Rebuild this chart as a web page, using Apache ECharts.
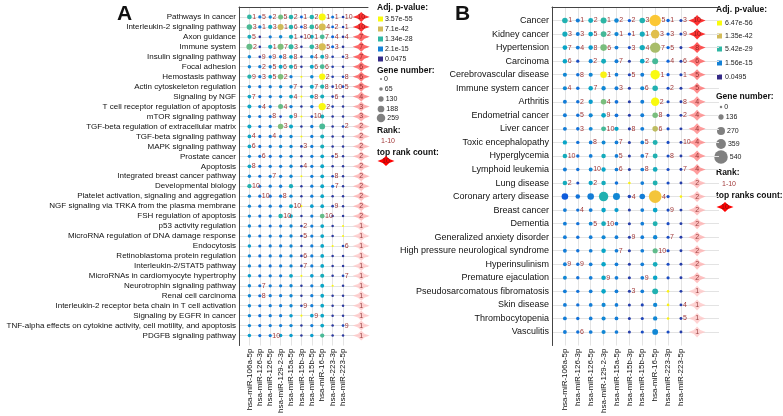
<!DOCTYPE html>
<html><head><meta charset="utf-8">
<script src="https://cdn.jsdelivr.net/npm/echarts@6/dist/echarts.min.js"></script>
<style>html,body{margin:0;padding:0;background:#fff}#c{width:783px;height:416px}</style>
</head><body><div id="c"></div><script>
const mirnas = ['hsa-miR-106a-5p','hsa-miR-126-3p','hsa-miR-126-5p','hsa-miR-129-2-3p','hsa-miR-15a-5p','hsa-miR-15b-3p','hsa-miR-15b-5p','hsa-miR-16-5p','hsa-miR-223-3p','hsa-miR-223-5p'];

const pathwaysA = ['Pathways in cancer','Interleukin-2 signaling pathway','Axon guidance','Immune system','Insulin signaling pathway','Focal adhesion','Hemostasis pathway','Actin cytoskeleton regulation','Signaling by NGF','T cell receptor regulation of apoptosis','mTOR signaling pathway','TGF-beta regulation of extracellular matrix','TGF-beta signaling pathway','MAPK signaling pathway','Prostate cancer','Apoptosis','Integrated breast cancer pathway','Developmental biology','Platelet activation, signaling and aggregation','NGF signaling via TRKA from the plasma membrane','FSH regulation of apoptosis','p53 activity regulation','MicroRNA regulation of DNA damage response','Endocytosis','Retinoblastoma protein regulation','Interleukin-2/STAT5 pathway','MicroRNAs in cardiomyocyte hypertrophy','Neurotrophin signaling pathway','Renal cell carcinoma','Interleukin-2 receptor beta chain in T cell activation','Signaling by EGFR in cancer','TNF-alpha effects on cytokine activity, cell motility, and apoptosis','PDGFB signaling pathway'];
const rankCountA = [10,10,7,7,7,6,6,5,4,3,3,2,2,2,2,2,2,2,2,2,2,1,1,1,1,1,1,1,1,1,1,1,1];
// -log10(adj. p) per pathway x miRNA
const logPA = [
[28,14,16,33,26,10,26,54,12,4],[30,14,24,41,26,8,28,42,10,4],[24,3,14,16,24,3,24,30,10,3],[32,4,24,34,28,3,28,42,10,3],
[16,5,14,16,22,3,16,24,4,4],[16,14,16,22,24,3,22,30,4,3],[26,14,22,34,14,54,16,54,4,5],[16,12,14,16,16,3,22,26,4,5],
[22,12,14,16,22,54,22,24,4,3],[22,14,14,32,14,3,14,54,4,3],[16,12,12,6,22,54,6,24,3,3],[22,12,14,34,22,3,14,30,3,5],
[22,12,14,14,16,54,14,24,3,3],[22,12,14,16,16,4,14,24,3,3],[16,12,12,14,16,3,14,22,5,3],[22,12,14,14,16,4,14,22,3,3],
[16,12,14,14,16,54,14,22,5,3],[26,12,14,14,24,3,14,22,10,3],[16,12,12,14,16,3,14,22,3,3],[16,12,14,14,22,54,20,22,4,3],
[16,12,14,26,22,3,14,32,3,3],[16,12,12,14,16,4,14,22,3,54],[16,12,14,14,16,4,14,22,3,54],[20,12,14,14,16,3,14,22,54,5],
[16,12,14,14,16,4,14,22,3,3],[16,12,12,14,16,4,14,22,3,3],[20,12,14,14,22,54,20,24,3,5],[16,12,14,14,16,3,14,22,54,3],
[16,12,14,14,16,3,14,22,3,3],[16,12,14,14,16,4,14,22,3,3],[16,12,14,14,20,54,20,22,3,3],[16,12,14,14,16,3,14,22,3,5],
[20,12,14,20,20,3,20,30,3,3]];
const genesA = [
[110,50,55,120,100,35,100,200,40,25],[140,55,90,160,100,30,110,200,35,20],[80,25,50,60,90,20,80,110,40,25],[160,25,90,160,120,20,110,210,40,25],
[60,30,50,55,70,20,60,80,25,25],[60,50,55,80,85,20,80,110,25,20],[90,50,70,140,50,5,60,170,25,25],[55,45,50,55,60,20,80,90,25,25],
[70,45,50,55,75,5,75,80,25,20],[80,50,50,120,55,20,55,210,25,20],[55,45,45,30,70,5,30,80,20,20],[80,45,50,140,80,20,55,150,20,25],
[70,45,50,50,55,5,50,80,20,20],[70,45,50,55,55,25,50,80,20,20],[55,45,45,50,55,20,50,70,25,20],[70,45,50,50,55,25,50,75,20,20],
[55,45,50,50,55,5,50,70,25,20],[90,45,50,55,90,20,50,75,40,20],[55,45,45,55,55,20,50,70,20,20],[55,45,50,50,75,5,65,70,25,20],
[55,45,50,100,70,20,50,110,20,20],[55,45,45,50,55,25,50,70,20,5],[55,45,50,50,55,25,50,70,20,5],[60,45,50,50,55,20,50,70,5,25],
[55,45,50,50,55,25,50,70,20,20],[55,45,45,50,55,25,50,70,20,20],[60,45,50,50,70,5,65,80,20,25],[55,45,50,50,55,20,50,75,5,20],
[55,45,50,50,55,20,50,70,20,20],[55,45,50,50,55,25,50,70,20,20],[55,45,50,50,60,5,65,70,20,20],[55,45,50,50,55,20,50,70,20,25],
[60,45,50,60,60,20,60,90,20,20]];
const rankA = [
[1,5,2,5,2,1,2,1,1,10],[3,1,3,1,6,8,6,4,2,1],[5,0,0,0,1,10,1,7,4,4],[2,0,1,7,3,0,3,5,3,0],
[0,9,9,8,8,0,4,9,0,3],[0,2,5,6,6,0,6,6,0,0],[9,3,5,2,0,0,0,2,0,8],[0,0,0,0,7,0,7,8,10,5],
[7,0,0,0,4,0,8,0,6,0],[0,4,0,4,0,0,0,2,0,0],[0,0,8,0,9,0,10,0,0,0],[0,0,0,3,0,0,0,0,0,2],
[4,0,4,0,0,0,0,0,0,0],[6,0,0,0,0,3,0,0,0,0],[0,6,0,0,0,0,0,0,5,0],[8,0,0,0,0,4,0,0,0,0],
[0,0,7,0,0,0,0,0,8,0],[10,0,0,0,0,0,0,0,7,0],[0,10,0,8,0,0,0,0,0,0],[0,0,0,0,10,0,0,0,9,0],
[0,0,0,10,0,0,0,10,0,0],[0,0,0,0,0,2,0,0,0,0],[0,0,0,0,0,5,0,0,0,0],[0,0,0,0,0,0,0,0,0,6],
[0,0,0,0,0,6,0,0,0,0],[0,0,0,0,0,7,0,0,0,0],[0,0,0,0,0,0,0,0,0,7],[0,7,0,0,0,0,0,0,0,0],
[0,8,0,0,0,0,0,0,0,0],[0,0,0,0,0,9,0,0,0,0],[0,0,0,0,0,0,9,0,0,0],[0,0,0,0,0,0,0,0,0,9],
[0,0,10,0,0,0,0,0,0,0]];

const diseasesB = ['Cancer','Kidney cancer','Hypertension','Carcinoma','Cerebrovascular disease','Immune system cancer','Arthritis','Endometrial cancer','Liver cancer','Toxic encephalopathy','Hyperglycemia','Lymphoid leukemia','Lung disease','Coronary artery disease','Breast cancer','Dementia','Generalized anxiety disorder','High pressure neurological syndrome','Hyperinsulinism','Premature ejaculation','Pseudosarcomatous fibromatosis','Skin disease','Thrombocytopenia','Vasculitis'];
const rankCountB = [10,10,8,6,5,5,4,4,4,4,4,4,2,2,2,2,2,2,2,2,1,1,1,1];
const logPB = [
[26,14,24,28,16,8,26,48,10,5],[24,14,22,30,16,8,24,44,10,5],[22,14,20,34,14,6,24,38,10,4],[22,6,16,24,14,4,22,30,10,4],
[16,12,16,54,14,5,14,55,8,5],[16,12,22,16,14,4,16,26,6,4],[14,12,20,34,12,4,14,55,6,4],[14,12,16,22,12,4,14,34,6,4],
[14,12,16,30,22,4,14,40,6,4],[22,12,14,16,14,4,14,26,6,4],[24,12,14,24,14,4,14,26,6,4],[14,12,16,22,14,4,14,24,6,4],
[24,6,22,24,12,54,14,26,6,4],[8,12,14,26,16,5,14,47,6,54],[14,12,14,22,20,4,14,22,6,4],[14,12,16,24,14,4,14,26,6,4],
[14,12,14,16,14,4,14,16,6,4],[14,12,14,22,14,4,14,32,6,4],[14,12,14,22,14,4,14,24,6,4],[16,12,14,22,14,4,14,22,6,4],
[14,12,14,22,14,4,14,26,54,4],[14,12,14,16,14,4,5,16,54,4],[14,12,14,16,14,4,5,16,54,4],[14,12,14,16,14,4,6,16,6,4]];
const genesB = [
[150,80,120,170,100,40,150,440,45,30],[130,70,110,160,90,35,130,300,40,25],[110,70,100,200,70,30,140,390,40,25],[100,35,80,120,70,25,110,170,40,25],
[80,50,80,200,60,30,70,340,35,30],[80,50,100,90,70,25,80,150,30,25],[70,50,90,150,60,25,70,290,30,20],[70,50,80,110,60,25,70,150,30,20],
[70,50,70,120,90,25,70,150,30,20],[90,45,60,70,60,25,60,120,30,20],[100,45,60,100,60,25,60,120,30,20],[70,45,70,90,60,25,60,110,30,20],
[100,30,90,100,55,5,60,120,30,20],[200,100,200,340,220,50,150,500,35,5],[65,45,65,100,85,25,60,110,30,20],[65,45,70,110,60,25,60,120,30,20],
[65,45,60,80,60,25,60,90,30,20],[65,45,60,100,60,25,60,130,30,20],[65,45,60,100,60,25,60,110,30,20],[70,45,60,100,60,25,60,100,30,20],
[65,45,60,100,60,25,60,170,5,20],[65,45,60,80,60,25,30,90,5,20],[65,45,60,80,60,25,30,90,5,20],[65,45,60,80,60,25,35,160,30,20]];
const rankB = [
[1,1,2,1,2,2,3,5,1,3],[3,3,5,2,1,1,1,3,3,9],[7,4,8,6,0,3,4,7,5,0],[6,0,2,0,7,0,2,0,4,6],
[0,8,0,1,0,5,0,1,0,1],[4,0,7,0,3,0,6,0,2,0],[0,2,0,4,0,0,0,2,0,8],[0,5,0,9,0,0,0,8,0,2],
[0,3,0,10,0,8,0,6,0,0],[0,0,8,0,7,0,5,0,0,10],[10,0,0,0,5,0,7,0,8,0],[0,0,10,0,6,0,8,0,0,7],
[2,0,2,0,0,0,0,0,0,0],[0,0,0,0,0,4,0,4,0,0],[0,4,0,0,0,0,0,0,9,0],[0,0,5,10,0,0,0,0,0,0],
[0,0,0,0,0,9,0,0,7,0],[0,0,0,0,7,0,0,10,0,0],[9,9,0,0,0,0,0,0,0,0],[0,0,0,9,0,0,9,0,0,0],
[0,0,0,0,0,3,0,0,0,0],[0,0,0,0,0,0,0,0,0,4],[0,0,0,0,0,0,0,0,0,5],[0,6,0,0,0,0,0,0,0,0]];

const legendPA = ['3.57e-55','7.1e-42','1.34e-28','2.1e-15','0.0475'];
const legendGA = [0,65,130,188,259];
const legendPB = ['6.47e-56','1.35e-42','5.42e-29','1.56e-15','0.0495'];
const legendGB = [0,136,270,359,540];

// ---------- styling helpers ----------
const FONT = 'Liberation Sans, Arial, sans-serif';
const parula = ['#352a87','#0f5cdd','#1481d6','#06a4ca','#2eb7a4','#87bf77','#d1bb59','#fec832','#f9fb0e'];
function hex2rgb(h){return [1,3,5].map(i=>parseInt(h.substr(i,2),16));}
function parulaColor(t){
  t=Math.max(0,Math.min(1,t));
  const s=t*(parula.length-1); const i=Math.min(Math.floor(s),parula.length-2); const f=s-i;
  const a=hex2rgb(parula[i]), b=hex2rgb(parula[i+1]);
  return 'rgb('+a.map((v,k)=>Math.round(v+(b[k]-v)*f)).join(',')+')';
}
function diamondColor(c){const t=(c-1)/9; const g=Math.round(200*(1-t)); return 'rgb(255,'+g+','+g+')';}
const diamondPath = 'path://M0,50 L31,31 L50,0 L69,31 L100,50 L69,69 L50,100 L31,69 Z';

function makePanel(p){
  const n = p.names.length;
  const pts = [];
  for(let r=0;r<n;r++) for(let c=0;c<10;c++) pts.push({value:[c+1, r+1, p.logP[r][c], p.genes[r][c], p.rank[r][c]]});
  const dia = p.counts.map((v,r)=>({value:[p.diaX, r+1, v]}));
  const xColors = []; for(let i=0;i<=14;i++) xColors.push(i>=1&&i<=10?'#e3e3e3':'rgba(0,0,0,0)');
  const yColors = []; for(let i=0;i<=n+1;i++) yColors.push(i>=1&&i<=n?'#e3e3e3':'rgba(0,0,0,0)');
  const lo=p.pRange[0], hi=p.pRange[1];
  return {
    grid:{left:p.left, top:p.top, width:p.width, height:p.height},
    xAxis:{type:'value', gridIndex:p.idx, min:0, max:p.xMax, interval:1,
      axisLine:{show:true, lineStyle:{color:'#444', width:1}}, axisTick:{show:false},
      splitLine:{show:true, lineStyle:{color:xColors, width:1}},
      axisLabel:{rotate:90, fontSize:8, color:'#111', fontFamily:FONT, margin:3,
        formatter:v=> (Number.isInteger(v)&&v>=1&&v<=10)?mirnas[v-1]:''}},
    yAxis:{type:'value', gridIndex:p.idx, inverse:true, min:0, max:n+1, interval:1,
      axisLine:{show:true, lineStyle:{color:'#444', width:1}}, axisTick:{show:false},
      splitLine:{show:true, lineStyle:{color:yColors, width:1}},
      axisLabel:{fontSize:p.yFont, color:'#111', fontFamily:FONT, margin:3,
        formatter:v=> (Number.isInteger(v)&&v>=1&&v<=n)?p.names[v-1]:''}},
    series:[
      {type:'scatter', xAxisIndex:p.idx, yAxisIndex:p.idx, data:pts, silent:true,
        symbolSize:v=>p.size(v[3]),
        itemStyle:{color:q=>parulaColor((q.value[2]-lo)/(hi-lo)), opacity:1},
        label:{show:true, position:'right', distance:0.5, fontSize:7, color:'#a23a3a', fontFamily:FONT,
          formatter:q=>q.value[4]?String(q.value[4]):''}},
      {type:'scatter', xAxisIndex:p.idx, yAxisIndex:p.idx, data:dia, silent:true,
        symbol:diamondPath, symbolSize:p.diaSize,
        itemStyle:{color:q=>diamondColor(q.value[2])},
        label:{show:true, position:'inside', fontSize:7, color:'#7a1414', fontFamily:FONT,
          formatter:q=>String(q.value[2])}}
    ]
  };
}

const sizeA = g=>2+6.5*g/259;
const sizeB = g=>2.5+11*g/540;
const pA = makePanel({idx:0, names:pathwaysA, logP:logPA, genes:genesA, rank:rankA, counts:rankCountA,
  left:239, top:7, width:129, height:339, xMax:12.4, diaX:11.75, diaSize:[17,10], yFont:8, size:sizeA, pRange:[1.32,54.45]});
const pB = makePanel({idx:1, names:diseasesB, logP:logPB, genes:genesB, rank:rankB, counts:rankCountB,
  left:552, top:7, width:167, height:340, xMax:12.95, diaX:11.25, diaSize:[17,11], yFont:9, size:sizeB, pRange:[1.31,55.19]});

function txt(x, y, text, extra){
  return {type:'text', x:x, y:y, silent:true,
    style:Object.assign({text:text, fontFamily:FONT, fontSize:7, fill:'#222', verticalAlign:'middle', align:'left'}, extra||{})};
}
function starPts(cx, cy, w, h){
  const a=w/2, b=h/2;
  return [[cx-a,cy],[cx-a*0.38,cy-b*0.38],[cx,cy-b],[cx+a*0.38,cy-b*0.38],[cx+a,cy],[cx+a*0.38,cy+b*0.38],[cx,cy+b],[cx-a*0.38,cy+b*0.38]];
}
function legend(x, y, pLabels, pRange, gLabels, sizeFn, lay){
  const els = [];
  const bold = {fontWeight:'bold', fontSize:lay.hf, fill:'#111'};
  els.push(txt(x, y[0], 'Adj. p-value:', bold));
  pLabels.forEach((t,i)=>{
    const lp = -Math.log10(parseFloat(t));
    els.push({type:'rect', silent:true, shape:{x:x+1, y:y[1][i]-2.5, width:5, height:5}, style:{fill:parulaColor((lp-pRange[0])/(pRange[1]-pRange[0]))}});
    els.push(txt(x+lay.ptx, y[1][i], t));
  });
  els.push(txt(x, y[2], 'Gene number:', bold));
  gLabels.forEach((g,i)=>{
    const r = sizeFn(g)/2;
    els.push({type:'circle', silent:true, shape:{cx:x+lay.gcx, cy:y[3][i], r:r}, style:{fill:'#808080'}});
    els.push(txt(x+lay.gcx+r+2, y[3][i], String(g)));
  });
  els.push(txt(x, y[4], 'Rank:', bold));
  els.push(txt(x+lay.rx, y[5], '1-10', {fill:'#a23a3a'}));
  els.push(txt(x, y[6], lay.topText, bold));
  els.push({type:'polygon', silent:true, shape:{points:starPts(x+lay.dx, y[7], 17, 10)}, style:{fill:'#ff0000'}});
  els.push(txt(x+lay.dx, y[7], '10', {fill:'#7a1414', align:'center'}));
  return els;
}

const graphics = [
  txt(117, 14, 'A', {fontWeight:'bold', fontSize:21, fill:'#111'}),
  txt(455, 14, 'B', {fontWeight:'bold', fontSize:21, fill:'#111'})
].concat(
  legend(377, [8,[19,29,39,49,59],71,[79,89,99,109,118],131,141,153,161], legendPA, [1.32,54.45], legendGA, sizeA,
    {ptx:8, gcx:4, rx:4, dx:9, hf:8.5, topText:'top rank count:'}),
  legend(716, [10,[23,36,49,63,77],97,[107,117,131,144,157],173,184,196,207], legendPB, [1.31,55.19], legendGB, sizeB,
    {ptx:9, gcx:5, rx:6, dx:9, hf:8.5, topText:'top ranks count:'})
);

const chart = echarts.init(document.getElementById('c'), null, {renderer:'canvas'});
chart.setOption({
  animation:false,
  backgroundColor:'#fff',
  textStyle:{fontFamily:FONT},
  grid:[pA.grid,pB.grid],
  xAxis:[pA.xAxis,pB.xAxis],
  yAxis:[pA.yAxis,pB.yAxis],
  series:pA.series.concat(pB.series),
  graphic:{elements:graphics}
});
</script></body></html>
